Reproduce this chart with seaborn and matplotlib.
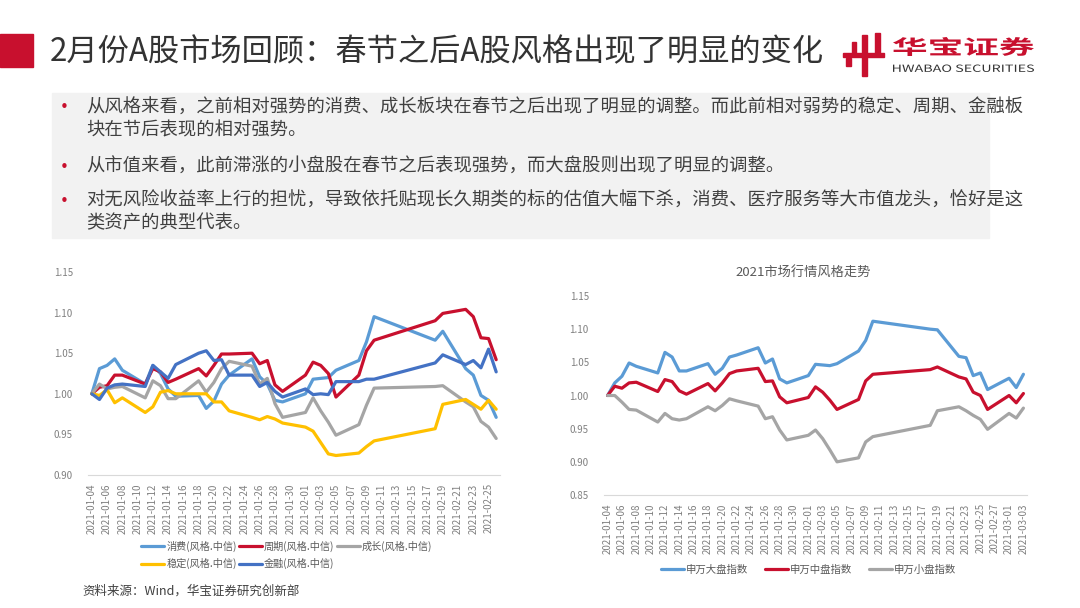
import numpy as np
import pandas as pd
import matplotlib
matplotlib.use("Agg")
import matplotlib.pyplot as plt
import matplotlib.dates as mdates
from matplotlib.patches import Rectangle, PathPatch
from matplotlib.textpath import TextPath
from matplotlib.font_manager import FontProperties
from matplotlib.transforms import Affine2D, IdentityTransform
import seaborn as sns

# trading days (Jan-Feb 2021, Spring Festival break Feb 11-17)
days_left = ["2021-01-04", "2021-01-05", "2021-01-06", "2021-01-07", "2021-01-08",
             "2021-01-11", "2021-01-12", "2021-01-13", "2021-01-14", "2021-01-15",
             "2021-01-18", "2021-01-19", "2021-01-20", "2021-01-21", "2021-01-22",
             "2021-01-25", "2021-01-26", "2021-01-27", "2021-01-28", "2021-01-29",
             "2021-02-01", "2021-02-02", "2021-02-03", "2021-02-04", "2021-02-05",
             "2021-02-08", "2021-02-09", "2021-02-10", "2021-02-18", "2021-02-19",
             "2021-02-22", "2021-02-23", "2021-02-24", "2021-02-25", "2021-02-26"]
days_right = days_left + ["2021-03-01", "2021-03-02", "2021-03-03"]

xiaofei = [1.000, 1.031, 1.035, 1.043, 1.029, 1.012, 1.035, 1.025, 1.006, 0.997,
           0.998, 0.982, 0.991, 1.012, 1.023, 1.043, 1.021, 1.012, 0.992, 0.990,
           1.000, 1.018, 1.019, 1.020, 1.029, 1.041, 1.064, 1.095, 1.066, 1.077,
           1.031, 1.023, 0.998, 0.992, 0.971]
zhouqi = [1.000, 1.008, 1.010, 1.023, 1.023, 1.012, 1.031, 1.027, 1.014, 1.018,
          1.031, 1.022, 1.035, 1.049, 1.049, 1.050, 1.037, 1.041, 1.011, 1.003,
          1.023, 1.039, 1.035, 1.025, 0.996, 1.023, 1.053, 1.066, 1.090, 1.099,
          1.104, 1.095, 1.069, 1.068, 1.042]
chengzhang = [1.000, 1.012, 1.006, 1.008, 1.009, 0.995, 1.016, 1.010, 0.994, 0.994,
              1.016, 1.002, 1.014, 1.031, 1.040, 1.034, 1.012, 1.019, 0.988, 0.971,
              0.977, 0.995, 0.979, 0.965, 0.949, 0.962, 0.986, 1.007, 1.009, 1.010,
              0.990, 0.984, 0.966, 0.959, 0.945]
wending = [1.000, 0.998, 1.005, 0.989, 0.995, 0.977, 0.984, 1.002, 1.004, 1.000,
           1.000, 1.000, 0.990, 0.990, 0.979, 0.971, 0.968, 0.972, 0.969, 0.964,
           0.959, 0.954, 0.940, 0.926, 0.924, 0.927, 0.935, 0.942, 0.957, 0.987,
           0.993, 0.987, 0.981, 0.992, 0.981]
jinrong = [1.000, 0.993, 1.007, 1.011, 1.012, 1.009, 1.035, 1.027, 1.019, 1.036,
           1.050, 1.053, 1.041, 1.042, 1.023, 1.023, 1.009, 1.014, 1.003, 0.996,
           1.006, 0.999, 1.000, 0.999, 1.015, 1.015, 1.018, 1.018, 1.038, 1.048,
           1.036, 1.041, 1.032, 1.055, 1.027]

dapan = [1.000, 1.019, 1.029, 1.049, 1.044, 1.034, 1.065, 1.058, 1.037, 1.037,
         1.048, 1.032, 1.041, 1.058, 1.061, 1.072, 1.049, 1.055, 1.025, 1.019,
         1.030, 1.047, 1.046, 1.045, 1.048, 1.067, 1.083, 1.112, 1.100, 1.099,
         1.059, 1.057, 1.030, 1.034, 1.009, 1.026, 1.012, 1.032]
zhongpan = [1.000, 1.014, 1.011, 1.019, 1.020, 1.006, 1.024, 1.021, 1.007, 1.002,
            1.018, 1.007, 1.019, 1.033, 1.037, 1.041, 1.021, 1.022, 0.998, 0.989,
            0.997, 1.013, 1.005, 0.993, 0.979, 0.994, 1.022, 1.032, 1.039, 1.043,
            1.028, 1.025, 1.005, 1.000, 0.979, 1.000, 0.989, 1.003]
xiaopan = [1.000, 1.000, 0.990, 0.979, 0.978, 0.960, 0.973, 0.965, 0.963, 0.965,
           0.983, 0.977, 0.985, 0.995, 0.992, 0.984, 0.965, 0.968, 0.948, 0.933,
           0.940, 0.948, 0.935, 0.918, 0.900, 0.906, 0.930, 0.938, 0.955, 0.977,
           0.983, 0.977, 0.970, 0.964, 0.949, 0.973, 0.966, 0.981]

left_names = ["消费(风格.中信)", "周期(风格.中信)", "成长(风格.中信)", "稳定(风格.中信)", "金融(风格.中信)"]
left_colors = ["#5B9BD5", "#C8102E", "#A5A5A5", "#FFC000", "#4472C4"]
right_names = ["申万大盘指数", "申万中盘指数", "申万小盘指数"]
right_colors = ["#5B9BD5", "#C8102E", "#A5A5A5"]

title = "2月份A股市场回顾：春节之后A股风格出现了明显的变化"
bullets = [
    ["从风格来看，之前相对强势的消费、成长板块在春节之后出现了明显的调整。而此前相对弱势的稳定、周期、金融板",
     "块在节后表现的相对强势。"],
    ["从市值来看，此前滞涨的小盘股在春节之后表现强势，而大盘股则出现了明显的调整。"],
    ["对无风险收益率上行的担忧，导致依托贴现长久期类的标的估值大幅下杀，消费、医疗服务等大市值龙头，恰好是这",
     "类资产的典型代表。"],
]
source = "资料来源：Wind，华宝证券研究创新部"
right_title = "2021市场行情风格走势"

sns.set_style("white")
plt.rcParams['font.family'] = ['Noto Sans CJK SC', 'DejaVu Sans']
plt.rcParams['axes.unicode_minus'] = False

W, H = 1080, 608
fig = plt.figure(figsize=(10.8, 6.08), dpi=100)


def box(x0, y0, x1, y1):
    return [x0 / W, 1 - y1 / H, (x1 - x0) / W, (y1 - y0) / H]


def fy(y):
    return 1 - y / H


# header
fig.patches.append(Rectangle((0, fy(67)), 33 / W, 33 / H, transform=fig.transFigure,
                             color="#C8102E", zorder=1))
fig.text(50 / W, fy(52), title, fontsize=22.5, color="#333333", va="center", ha="left")

# logo
red = "#C8102E"
for (x0, y0, x1, y1) in [(862, 35, 867, 76), (852, 42, 856, 56), (875, 33, 880, 54),
                         (843, 53, 884, 57), (846, 58, 851, 66)]:
    fig.patches.append(Rectangle((x0 / W, fy(y1)), (x1 - x0) / W, (y1 - y0) / H,
                                 transform=fig.transFigure, color=red))


def squashed_text(s, x0, y_base, width, height, color, weight):
    tp = TextPath((0, 0), s, size=20, prop=FontProperties(family='Noto Sans CJK SC', weight=weight))
    bb = tp.get_extents()
    tr = Affine2D().translate(-bb.x0, -bb.y0).scale(width / bb.width, height / bb.height) \
        .translate(x0, H - y_base)
    fig.patches.append(PathPatch(tp, transform=tr + IdentityTransform(), color=color, lw=0))


squashed_text("华宝证券", 893, 56, 141, 19, red, "bold")
squashed_text("HWABAO SECURITIES", 893, 72, 141, 7.5, "#333333", "normal")

# bullet box
fig.patches.append(Rectangle((52 / W, fy(238)), (989 - 52) / W, (238 - 93) / H,
                             transform=fig.transFigure, color="#F2F2F2", zorder=0))
line_y = [[108, 130], [167], [201, 223]]
for lines, ys in zip(bullets, line_y):
    fig.text(60 / W, fy(ys[0]), "•", color="#C8102E", fontsize=11, family="DejaVu Sans",
             va="center", ha="left")
    for t, y in zip(lines, ys):
        fig.text(86 / W, fy(y), t, fontsize=13.2, color="#404040", va="center", ha="left")

fig.text(82 / W, fy(591), source, fontsize=9, color="#404040", va="center", ha="left")


def make_df(days, series, names):
    frames = []
    for vals, name in zip(series, names):
        frames.append(pd.DataFrame({"date": pd.to_datetime(days), "value": vals, "series": name}))
    return pd.concat(frames, ignore_index=True)


def style_axis(ax, start, end, last_tick, ylim, yticks):
    ax.set_xlim(pd.Timestamp(start) - pd.Timedelta(hours=12), pd.Timestamp(end) + pd.Timedelta(hours=12))
    ax.set_ylim(*ylim)
    ax.set_yticks(yticks)
    ax.set_yticklabels([f"{v:.2f}" for v in yticks])
    ticks = pd.date_range(start, last_tick, freq="2D")
    ax.set_xticks(ticks)
    ax.set_xticklabels([d.strftime("%Y-%m-%d") for d in ticks], rotation=90)
    for s in ["top", "right", "left"]:
        ax.spines[s].set_visible(False)
    ax.spines["bottom"].set_color("#D9D9D9")
    ax.tick_params(axis="x", length=3, color="#D9D9D9", labelsize=7, labelcolor="#808080", pad=3)
    ax.tick_params(axis="y", length=0, labelsize=7, labelcolor="#808080", pad=11)
    ax.set_xlabel("")
    ax.set_ylabel("")
    ax.patch.set_alpha(0)


# left chart
axl = fig.add_axes(box(88, 272, 500, 475))
df_l = make_df(days_left, [xiaofei, zhouqi, chengzhang, wending, jinrong], left_names)
sns.lineplot(data=df_l, x="date", y="value", hue="series", hue_order=left_names,
             palette=dict(zip(left_names, left_colors)), linewidth=2.3, ax=axl, legend=True)
h, l = axl.get_legend_handles_labels()
axl.get_legend().remove()
order = [0, 3, 1, 4, 2]
fig.legend([h[i] for i in order], [l[i] for i in order], ncol=3, loc="upper left",
           bbox_to_anchor=(141 / W, fy(541)), frameon=False, fontsize=7.3,
           handlelength=2.3, handletextpad=0.2, columnspacing=0.2, labelspacing=0.6,
           borderaxespad=0, borderpad=0, labelcolor="#595959")
style_axis(axl, "2021-01-04", "2021-02-26", "2021-02-25", (0.90, 1.15),
           [0.90, 0.95, 1.00, 1.05, 1.10, 1.15])

# right chart
axr = fig.add_axes(box(604, 296, 1027, 495))
df_r = make_df(days_right, [dapan, zhongpan, xiaopan], right_names)
sns.lineplot(data=df_r, x="date", y="value", hue="series", hue_order=right_names,
             palette=dict(zip(right_names, right_colors)), linewidth=2.3, ax=axr, legend=True)
h, l = axr.get_legend_handles_labels()
axr.get_legend().remove()
fig.legend(h, l, ncol=3, loc="center left", bbox_to_anchor=(661 / W, fy(570)), frameon=False,
           fontsize=7.5, handlelength=2.2, handletextpad=0.2, columnspacing=1.6,
           borderaxespad=0, borderpad=0, labelcolor="#595959")
style_axis(axr, "2021-01-04", "2021-03-03", "2021-03-03", (0.85, 1.15),
           [0.85, 0.90, 0.95, 1.00, 1.05, 1.10, 1.15])
fig.text(803 / W, fy(273), right_title, fontsize=9.5, color="#595959", ha="center", va="center")

fig.savefig("out.png", dpi=100)
